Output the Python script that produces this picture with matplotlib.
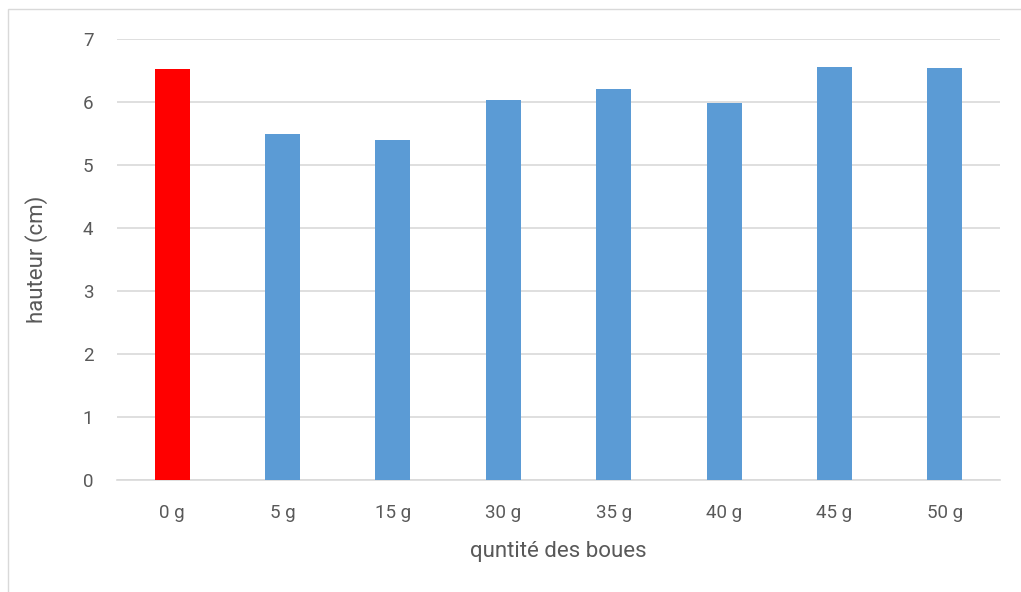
import matplotlib
matplotlib.use("Agg")
import matplotlib.pyplot as plt
from matplotlib.patches import Rectangle

categories = ["0 g", "5 g", "15 g", "30 g", "35 g", "40 g", "45 g", "50 g"]
heights = [6.52, 5.50, 5.40, 6.03, 6.20, 5.99, 6.56, 6.54]
colors = ["#FF0000"] + ["#5B9BD5"] * 7
yticks = [0, 1, 2, 3, 4, 5, 6, 7]

plt.rcParams["font.family"] = ["Roboto", "DejaVu Sans"]
text_color = "#595959"

fig = plt.figure(figsize=(10.21, 5.92), dpi=100)
fig.patch.set_facecolor("white")

# light frame around the chart area
fig.add_artist(Rectangle((8 / 1021, -0.05), 1.1, (592 - 9) / 592 + 0.05,
                         transform=fig.transFigure, fill=False,
                         edgecolor="#D9D9D9", linewidth=1.0))

ax = fig.add_axes([117 / 1021, 112 / 592, 883 / 1021, 441 / 592])
x = list(range(len(categories)))
ax.bar(x, heights, width=0.317, color=colors, zorder=3)

ax.set_xlim(-0.5, len(categories) - 0.5)
ax.set_ylim(0, 7)
ax.set_yticks(yticks)
ax.set_xticks(x)
ax.set_xticklabels(categories)
ax.yaxis.grid(True, color="#D9D9D9", linewidth=1.2, zorder=0)
ax.set_axisbelow(True)

for side in ["top", "right", "left"]:
    ax.spines[side].set_visible(False)
ax.spines["bottom"].set_color("#D9D9D9")
ax.spines["bottom"].set_linewidth(1.2)

ax.tick_params(axis="y", length=0, pad=17, labelsize=13.5, labelcolor=text_color)
ax.tick_params(axis="x", length=0, pad=17, labelsize=13.5, labelcolor=text_color)

ax.set_xlabel("quntité des boues", fontsize=16, color=text_color, labelpad=14)
ax.set_ylabel("hauteur (cm)", fontsize=16, color=text_color, labelpad=25)

fig.savefig("out.png", dpi=100, facecolor="white")
